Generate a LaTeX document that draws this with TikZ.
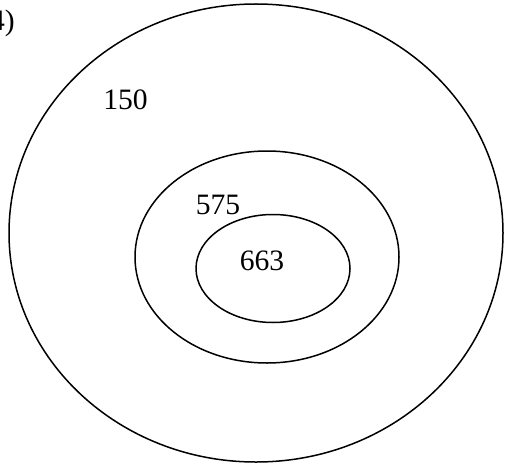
\documentclass[tikz,border=0pt]{standalone}
\usepackage{fontspec}
\setmainfont{Liberation Serif}
\usepackage{tikz}

\tikzset{
  ring/.style={line width=1.5pt},
  count/.style={inner sep=0pt, font=\fontsize{29.6}{34}\selectfont}
}

\begin{document}
\begin{tikzpicture}[x=1pt, y=-1pt]
  \useasboundingbox (0,0) rectangle (505,468);
  % item number, cut at the left edge
  \node[count, anchor=base east] (num) at (15,31) {4)};
  % the three nested sets
  \draw[ring] (256,233) ellipse [x radius=247, y radius=229];
  \draw[ring] (267,257) ellipse [x radius=132, y radius=106];
  \draw[ring] (273,268.5) ellipse [x radius=77, y radius=54];
  % counts
  \node[count] (outer) at (125.5,100) {150};
  \node[count] (middle) at (218,205) {575};
  \node[count] (inner) at (262,261) {663};
\end{tikzpicture}
\end{document}
